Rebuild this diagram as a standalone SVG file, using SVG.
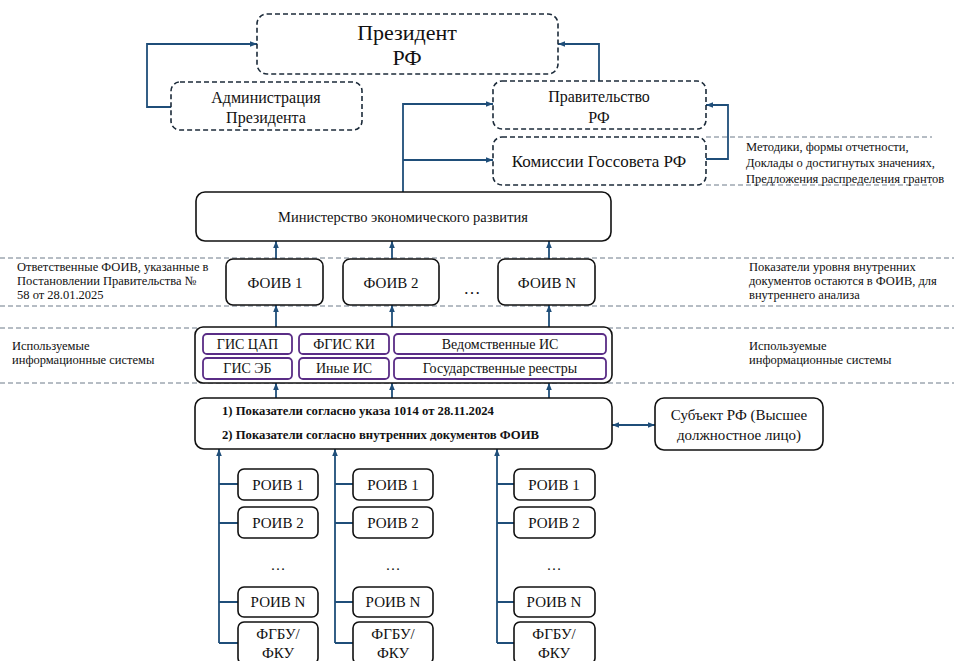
<svg xmlns="http://www.w3.org/2000/svg" width="954" height="661" viewBox="0 0 954 661" font-family="'Liberation Serif', 'DejaVu Serif', serif">
<style>
text{font-family:"Liberation Serif","DejaVu Serif",serif;fill:#111}
.c{text-anchor:middle}
.dbox{fill:#fff;stroke:#1c2b3a;stroke-width:1.6;stroke-dasharray:5,3}
.sbox{fill:#fff;stroke:#111;stroke-width:1.6}
.pbox{fill:#fff;stroke:#5a2d86;stroke-width:1.8}
.sep{stroke:#6c7a89;stroke-width:1;stroke-dasharray:5,3;fill:none}
.con{stroke:#1f4e79;stroke-width:1.8;fill:none}
.arr{marker-end:url(#ah)}
.f12{font-size:12.5px}
.f14{font-size:14px}
.f15{font-size:15px}
.f16{font-size:16px}
</style>
<defs>
<marker id="ah" viewBox="0 0 10 10" refX="10" refY="5" markerWidth="7" markerHeight="7" markerUnits="userSpaceOnUse" orient="auto-start-reverse">
<path d="M0,1 L10,5 L0,9 z" fill="#1f4e79"/>
</marker>
</defs>

<g id="separators">
<line class="sep" x1="706" y1="137" x2="932" y2="137"/>
<line class="sep" x1="706" y1="185" x2="932" y2="185"/>
<line class="sep" x1="0" y1="258" x2="954" y2="258"/>
<line class="sep" x1="0" y1="306" x2="954" y2="306"/>
<line class="sep" x1="0" y1="328" x2="954" y2="328"/>
<line class="sep" x1="0" y1="383" x2="954" y2="383"/>
</g>

<g id="connectors">
<path class="con arr" d="M171,107 H147 V44 H257"/>
<path class="con arr" d="M599,81 V44 H558"/>
<path class="con arr" d="M403,192 V104 H493"/>
<path class="con arr" d="M403,160 H493"/>
<path class="con arr" d="M706,159 H728 V105 H706"/>
<path class="con arr" d="M276,259 V241"/>
<path class="con arr" d="M392,259 V241"/>
<path class="con arr" d="M549,259 V241"/>
<path class="con arr" d="M276,327 V305"/>
<path class="con arr" d="M392,327 V305"/>
<path class="con arr" d="M549,327 V305"/>
<path class="con arr" d="M276,398 V383"/>
<path class="con arr" d="M392,398 V383"/>
<path class="con arr" d="M549,398 V383"/>
<path class="con" d="M612,425 H655" marker-start="url(#ah)" marker-end="url(#ah)"/>
<path class="con arr" d="M219,643 V449"/>
<path class="con" d="M219,484 H238 M219,523 H238 M219,602 H238 M219,643 H238"/>
<path class="con arr" d="M335,643 V449"/>
<path class="con" d="M335,484 H353 M335,523 H353 M335,602 H353 M335,643 H353"/>
<path class="con arr" d="M497,643 V449"/>
<path class="con" d="M497,484 H514 M497,523 H514 M497,602 H514 M497,643 H514"/>
</g>

<g id="president">
<rect class="dbox" x="257" y="14" width="301" height="60" rx="10"/>
<text class="c" x="407" y="40" font-size="22">Президент</text>
<text class="c" x="407" y="65" font-size="22">РФ</text>
</g>

<g id="admin">
<rect class="dbox" x="171" y="82" width="191" height="48" rx="9"/>
<text class="c f16" x="266" y="103">Администрация</text>
<text class="c f16" x="266" y="123">Президента</text>
</g>

<g id="government">
<rect class="dbox" x="493" y="81" width="213" height="48" rx="9"/>
<text class="c f16" x="599" y="102">Правительство</text>
<text class="c f16" x="599" y="123">РФ</text>
</g>

<g id="commission">
<rect class="dbox" x="493" y="137" width="213" height="48" rx="9"/>
<text class="c" x="599" y="167" font-size="17">Комиссии Госсовета РФ</text>
</g>

<g id="note-methods">
<text class="f12" x="746" y="151">Методики, формы отчетности,</text>
<text class="f12" x="746" y="167">Доклады о достигнутых значениях,</text>
<text class="f12" x="746" y="183">Предложения распределения грантов</text>
</g>

<g id="ministry">
<rect class="sbox" x="196" y="192" width="415" height="49" rx="9"/>
<text class="c" x="403" y="222" font-size="14.5">Министерство экономического развития</text>
</g>

<g id="note-foiv-left">
<text class="f12" x="17" y="271">Ответственные ФОИВ, указанные в</text>
<text class="f12" x="17" y="285">Постановлении Правительства №</text>
<text class="f12" x="17" y="299">58 от 28.01.2025</text>
</g>

<g id="foiv1">
<rect class="sbox" x="226" y="259" width="97" height="46" rx="7"/>
<text class="c f15" x="275" y="288">ФОИВ 1</text>
</g>
<g id="foiv2">
<rect class="sbox" x="343" y="259" width="96" height="46" rx="7"/>
<text class="c f15" x="391" y="288">ФОИВ 2</text>
</g>
<g id="foiv-dots">
<text class="c" x="472" y="294" font-size="17">…</text>
</g>
<g id="foivN">
<rect class="sbox" x="498" y="259" width="97" height="46" rx="7"/>
<text class="c f15" x="547" y="288">ФОИВ N</text>
</g>

<g id="note-foiv-right">
<text class="f12" x="749" y="271">Показатели уровня внутренних</text>
<text class="f12" x="749" y="285">документов остаются в ФОИВ, для</text>
<text class="f12" x="749" y="299">внутреннего анализа</text>
</g>

<g id="note-is-left">
<text class="f12" x="12" y="350">Используемые</text>
<text class="f12" x="12" y="364">информационные системы</text>
</g>
<g id="note-is-right">
<text class="f12" x="749" y="350">Используемые</text>
<text class="f12" x="749" y="364">информационные системы</text>
</g>

<g id="info-systems">
<rect class="sbox" x="195" y="327" width="417" height="56" rx="8"/>
<rect class="pbox" x="203" y="334" width="89" height="20" rx="4"/>
<text class="c f14" x="247.5" y="349">ГИС ЦАП</text>
<rect class="pbox" x="299" y="334" width="90" height="20" rx="4"/>
<text class="c f14" x="344" y="349">ФГИС КИ</text>
<rect class="pbox" x="394" y="334" width="212" height="20" rx="4"/>
<text class="c f14" x="500" y="349">Ведомственные ИС</text>
<rect class="pbox" x="203" y="358" width="89" height="21" rx="4"/>
<text class="c f14" x="247.5" y="373">ГИС ЭБ</text>
<rect class="pbox" x="299" y="358" width="90" height="21" rx="4"/>
<text class="c f14" x="344" y="373">Иные ИС</text>
<rect class="pbox" x="394" y="358" width="212" height="21" rx="4"/>
<text class="c f14" x="500" y="373">Государственные реестры</text>
</g>

<g id="indicators">
<rect class="sbox" x="195" y="398" width="417" height="51" rx="9"/>
<text x="222" y="415" font-size="12.7" font-weight="bold">1) Показатели согласно указа 1014 от 28.11.2024</text>
<text x="222" y="439" font-size="12.7" font-weight="bold">2) Показатели согласно внутренних документов ФОИВ</text>
</g>

<g id="subject">
<rect class="sbox" x="655" y="398" width="168" height="52" rx="9"/>
<text class="c f15" x="739" y="420">Субъект РФ (Высшее</text>
<text class="c f15" x="739" y="440">должностное лицо)</text>
</g>

<g id="col1">
<g id="roiv1-1"><rect class="sbox" x="238" y="469" width="80" height="31" rx="6"/><text class="c f15" x="278" y="490">РОИВ 1</text></g>
<g id="roiv1-2"><rect class="sbox" x="238" y="507" width="80" height="31" rx="6"/><text class="c f15" x="278" y="528">РОИВ 2</text></g>
<g id="dots1"><text class="c f15" x="278" y="570">…</text></g>
<g id="roiv1-N"><rect class="sbox" x="238" y="587" width="80" height="30" rx="6"/><text class="c f15" x="278" y="607">РОИВ N</text></g>
<g id="fgbu1"><rect class="sbox" x="238" y="622" width="80" height="42" rx="6"/><text class="c f15" x="278" y="639">ФГБУ/</text><text class="c f15" x="278" y="658">ФКУ</text></g>
</g>

<g id="col2">
<g id="roiv2-1"><rect class="sbox" x="353" y="469" width="80" height="31" rx="6"/><text class="c f15" x="393" y="490">РОИВ 1</text></g>
<g id="roiv2-2"><rect class="sbox" x="353" y="507" width="80" height="31" rx="6"/><text class="c f15" x="393" y="528">РОИВ 2</text></g>
<g id="dots2"><text class="c f15" x="393" y="570">…</text></g>
<g id="roiv2-N"><rect class="sbox" x="353" y="587" width="80" height="30" rx="6"/><text class="c f15" x="393" y="607">РОИВ N</text></g>
<g id="fgbu2"><rect class="sbox" x="353" y="622" width="80" height="42" rx="6"/><text class="c f15" x="393" y="639">ФГБУ/</text><text class="c f15" x="393" y="658">ФКУ</text></g>
</g>

<g id="col3">
<g id="roiv3-1"><rect class="sbox" x="514" y="469" width="81" height="31" rx="6"/><text class="c f15" x="554" y="490">РОИВ 1</text></g>
<g id="roiv3-2"><rect class="sbox" x="514" y="507" width="81" height="31" rx="6"/><text class="c f15" x="554" y="528">РОИВ 2</text></g>
<g id="dots3"><text class="c f15" x="554" y="570">…</text></g>
<g id="roiv3-N"><rect class="sbox" x="514" y="587" width="81" height="30" rx="6"/><text class="c f15" x="554" y="607">РОИВ N</text></g>
<g id="fgbu3"><rect class="sbox" x="514" y="622" width="81" height="42" rx="6"/><text class="c f15" x="554" y="639">ФГБУ/</text><text class="c f15" x="554" y="658">ФКУ</text></g>
</g>
</svg>
